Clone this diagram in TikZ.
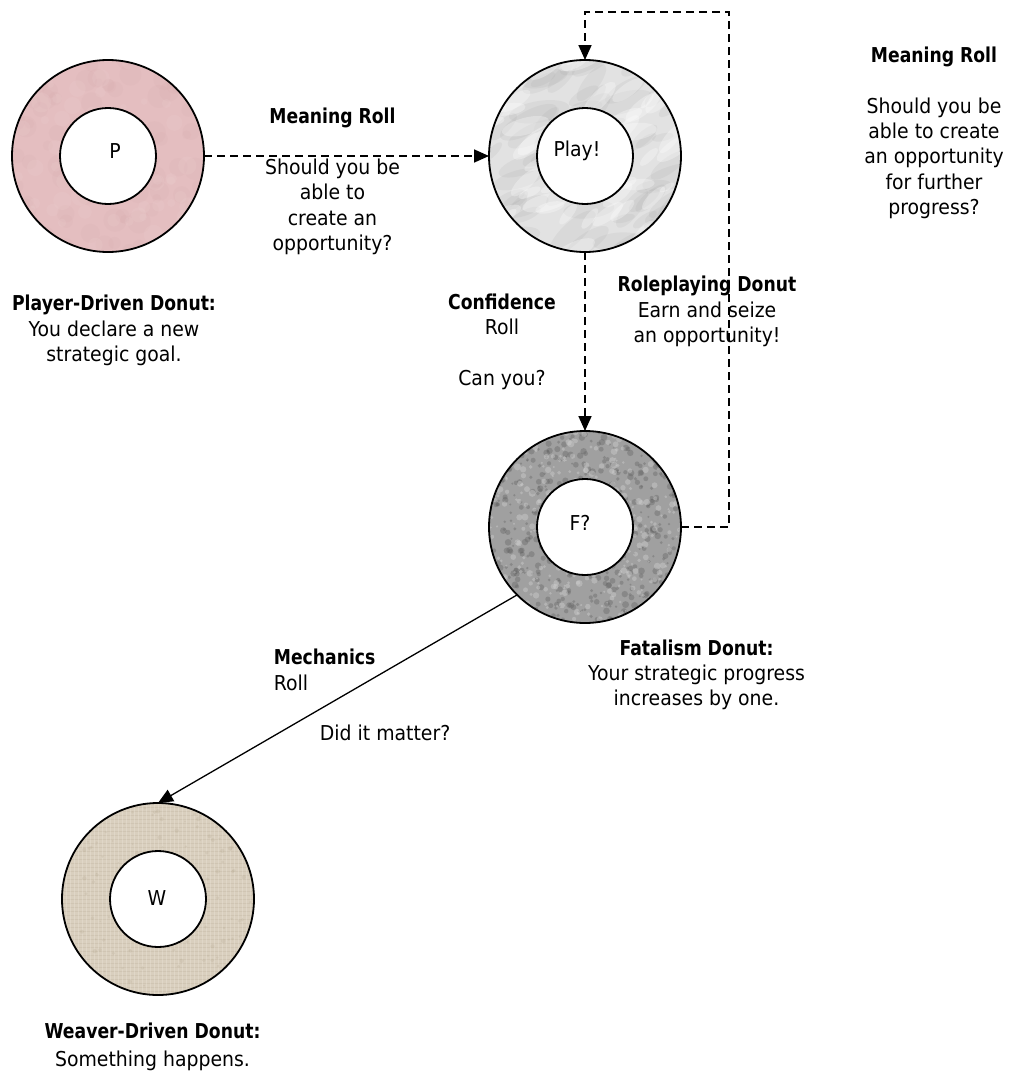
\documentclass[tikz,border=0pt]{standalone}
\usepackage{fontspec}
\setmainfont{DejaVu Sans}[FakeStretch=0.92, BoldFeatures={FakeStretch=0.84}]
\usetikzlibrary{arrows.meta}
\definecolor{pinkbase}{HTML}{E4BEC0}
\definecolor{pinkdark}{HTML}{D3A6A9}
\definecolor{pinklight}{HTML}{F0D6D6}
\definecolor{marblebase}{HTML}{E2E2E2}
\definecolor{marbledark}{HTML}{9A9A9A}
\definecolor{granitebase}{HTML}{A0A0A0}
\definecolor{granitedark}{HTML}{5E5E5E}
\definecolor{granitelight}{HTML}{D4D4D4}
\definecolor{burlapbase}{HTML}{D9CFBE}
\definecolor{burlapdark}{HTML}{B8AB93}
\definecolor{burlaplight}{HTML}{EEE8DC}
\newcommand{\texdots}[7]{%
  \foreach \k in {1,...,#3}{%
    \pgfmathsetmacro{\tdx}{#1+98*rand}%
    \pgfmathsetmacro{\tdy}{#2+98*rand}%
    \pgfmathsetmacro{\tdr}{#6+#7*rnd}%
    \fill[#4, opacity=#5] (\tdx,\tdy) circle (\tdr pt);}}
\newcommand{\texstreaks}[7]{%
  \foreach \k in {1,...,#3}{%
    \pgfmathsetmacro{\tdx}{#1+98*rand}%
    \pgfmathsetmacro{\tdy}{#2+98*rand}%
    \pgfmathsetmacro{\tdr}{#6+#7*rnd}%
    \pgfmathsetmacro{\tdq}{0.35*\tdr}%
    \pgfmathsetmacro{\tda}{30+25*rand}%
    \fill[#4, opacity=#5, rotate around={\tda:(\tdx,\tdy)}] (\tdx,\tdy) ellipse (\tdr pt and \tdq pt);}}
\begin{document}
\begin{tikzpicture}[x=1pt,y=-1pt,
  donut/.style={circle, minimum size=192pt, inner sep=0pt, outer sep=0pt},
  ring/.style={draw=black, line width=1.8pt},
  hole/.style={circle, minimum size=96pt, inner sep=0pt, outer sep=0pt, draw=black, line width=1.8pt, fill=white},
  txt/.style={font=\fontsize{20.5}{25.3}\selectfont, align=center, inner sep=0pt, text=black},
  dashedarrow/.style={line width=1.7pt, dash pattern=on 8pt off 5pt, -{Triangle[length=15pt,width=13pt]}},
  solidarrow/.style={line width=1.3pt, -{Triangle[length=15pt,width=13pt]}}
]
\useasboundingbox (0,0) rectangle (1010,1074);
\pgfmathsetseed{7}

% ---- Player-driven donut
\node[donut, fill=pinkbase] (P) at (108,156) {};
\begin{scope}
  \clip (P.center) circle (96pt);
  \texdots{108}{156}{110}{pinkdark}{0.12}{4}{8}
  \texdots{108}{156}{80}{pinklight}{0.15}{3}{7}
\end{scope}
\draw[ring] (P.center) circle (96pt);
\node[hole] (Pin) at (P.center) {};
\node[txt] (Ptxt) at (115,151) {P};

% ---- Roleplaying donut
\node[donut, fill=marblebase] (Play) at (585,156) {};
\begin{scope}
  \clip (Play.center) circle (96pt);
  \texstreaks{585}{156}{70}{marbledark}{0.12}{10}{22}
  \texstreaks{585}{156}{50}{white}{0.3}{8}{18}
\end{scope}
\draw[ring] (Play.center) circle (96pt);
\node[hole] (Playin) at (Play.center) {};
\node[txt] (Playtxt) at (577,151) {Play!};

% ---- Fatalism donut
\node[donut, fill=granitebase] (F) at (585,527) {};
\begin{scope}
  \clip (F.center) circle (96pt);
  \texdots{585}{527}{550}{granitedark}{0.35}{1}{2.5}
  \texdots{585}{527}{400}{granitelight}{0.4}{1}{2.5}
\end{scope}
\draw[ring] (F.center) circle (96pt);
\node[hole] (Fin) at (F.center) {};
\node[txt] (Ftxt) at (580,523) {F?};

% ---- Weaver-driven donut
\node[donut, fill=burlapbase] (W) at (158,899) {};
\begin{scope}
  \clip (W.center) circle (96pt);
  \foreach \yy in {-96,-92,...,96}{\draw[burlapdark, opacity=0.25, line width=0.8pt] (62,899+\yy) -- (254,899+\yy);}
  \foreach \xx in {-96,-92,...,96}{\draw[burlaplight, opacity=0.35, line width=0.8pt] (158+\xx,803) -- (158+\xx,995);}
  \texdots{158}{899}{150}{burlapdark}{0.25}{0.8}{1.5}
\end{scope}
\draw[ring] (W.center) circle (96pt);
\node[hole] (Win) at (W.center) {};
\node[txt] (Wtxt) at (157,898) {W};

% ---- connectors
\coordinate (loopTop) at (729,12);
\draw[dashedarrow] (P.east) -- (Play.west);
\draw[dashedarrow] (Play.south) -- (F.north);
\draw[dashedarrow] (F.east) -| (loopTop) -| (Play.north);
\draw[solidarrow] (F.225) -- (W.north);

% ---- labels
\node[txt] (lblMeaning) at (332.5,181.5) {\textbf{Meaning Roll}\\[25.3pt]Should you be\\able to\\create an\\opportunity?};
\node[txt] (lblPlayer) at (114,330.5) {\textbf{Player-Driven Donut:}\\You declare a new\\strategic goal.};
\node[txt] (lblMeaning2) at (934,133) {\textbf{Meaning Roll}\\[25.3pt]Should you be\\able to create\\an opportunity\\for further\\progress?};
\node[txt] (lblConf) at (502,341.5) {\textbf{Confidence}\\Roll\\[25.3pt]Can you?};
\node[txt] (lblRole) at (707,311.5) {\textbf{Roleplaying Donut}\\Earn and seize\\an opportunity!};
\node[txt] (lblFatal) at (696.5,675) {\textbf{Fatalism Donut:}\\Your strategic progress\\increases by one.};
\node[txt, align=left, anchor=west] (lblMech) at (273.7,695) {\textbf{Mechanics}\\Roll\\[25.3pt]\hspace*{46pt}Did it matter?};
\node[txt] (lblWeaver) at (152.5,1047) {\textbf{Weaver-Driven Donut:}\\[2.7pt]Something happens.};
\end{tikzpicture}
\end{document}
